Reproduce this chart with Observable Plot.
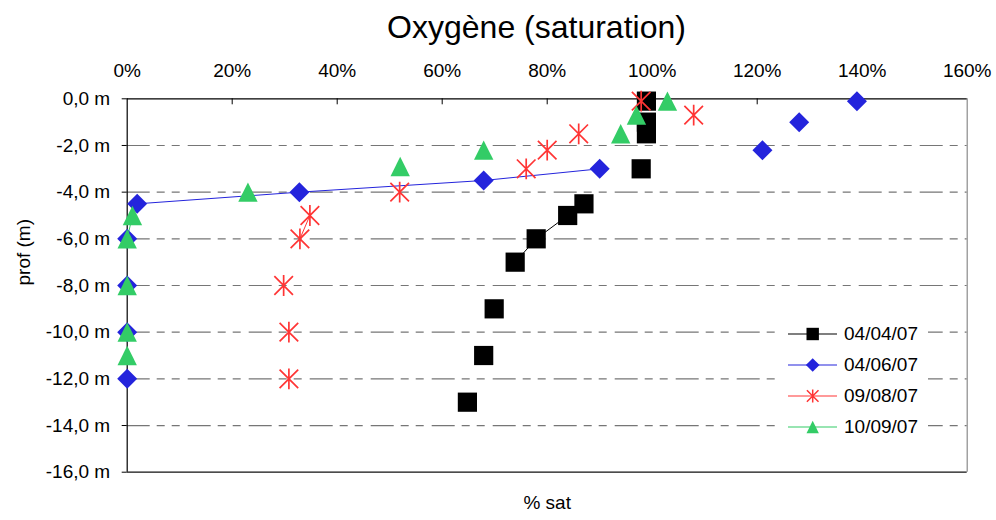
<!DOCTYPE html>
<html><head><meta charset="utf-8">
<script src="https://cdn.jsdelivr.net/npm/d3@7"></script>
<script src="https://cdn.jsdelivr.net/npm/@observablehq/plot@0.6"></script>
<style>
body{margin:0;background:#fff;}
#wrap{position:relative;width:996px;height:520px;overflow:hidden;font-family:"Liberation Sans",Arial,sans-serif;color:#000;}
#chart{position:absolute;left:0;top:0;}
#title{position:absolute;left:536.5px;top:11px;transform:translateX(-50%);font-size:32px;line-height:1;white-space:nowrap;}
#legend{position:absolute;left:780px;top:319px;width:148px;height:122px;background:#fff;}
.item{position:absolute;left:8px;height:20px;display:flex;align-items:center;font-size:19px;white-space:nowrap;}
.item svg{display:block;margin-right:6px;}
</style></head><body>
<div id="wrap"><div id="chart"></div><div id="title">Oxygène (saturation)</div><div id="legend"></div></div>
<script>
// ---- data ----
const seriesNames = ["04/04/07", "04/06/07", "09/08/07", "10/09/07"];
const seriesColors = ["#000000", "#2424dc", "#ff3535", "#33cc66"];

const depth0404 = [-0.1, -1.0, -1.5, -3.0, -4.5, -5.0, -6.0, -7.0, -9.0, -11.0, -13.0];
const sat0404   = [98.9, 98.9, 98.9, 97.9, 87.0, 83.9, 77.9, 73.9, 69.9, 67.9, 64.8];
const seg0404   = [1, 2, 3, 4, 5, 5, 5, 5, 6, 7, 8];

const depth0406 = [-0.1, -1.0, -2.2, -3.0, -3.5, -4.0, -4.5, -6.0, -8.0, -10.0, -12.0];
const sat0406   = [139.0, 128.0, 121.0, 90.0, 67.9, 32.8, 1.9, 0, 0, 0, 0];
const seg0406   = [1, 2, 3, 4, 4, 4, 4, 5, 6, 7, 8];

const depth0908 = [-0.1, -0.7, -1.5, -2.2, -3.0, -4.0, -5.0, -6.0, -8.0, -10.0, -12.0];
const sat0908   = [97.9, 107.9, 86.0, 80.0, 76.0, 51.9, 34.8, 32.9, 29.8, 30.8, 30.8];
const seg0908   = [1, 2, 3, 4, 5, 6, 7, 7, 8, 9, 10];

const depth1009 = [-0.1, -0.7, -1.5, -2.2, -2.9, -4.0, -5.0, -6.0, -8.0, -10.0, -11.0];
const sat1009   = [102.9, 97.0, 94.0, 67.9, 52.0, 23.0, 1.0, 0, 0, 0, 0];
const seg1009   = [1, 2, 3, 4, 5, 6, 7, 7, 8, 9, 10];

const xTicks = [0, 20, 40, 60, 80, 100, 120, 140, 160];
const yTicks = [0, -2, -4, -6, -8, -10, -12, -14, -16];
const xLabel = "% sat";
const yLabel = "prof (m)";

// ---- symbols (Excel-like markers) ----
const rad = (size) => Math.sqrt(size / Math.PI);
const symSquare = {draw(c, s) { const r = rad(s); c.moveTo(-r, -r); c.lineTo(r, -r); c.lineTo(r, r); c.lineTo(-r, r); c.closePath(); }};
const symDiamond = {draw(c, s) { const r = rad(s); c.moveTo(0, -r); c.lineTo(r, 0); c.lineTo(0, r); c.lineTo(-r, 0); c.closePath(); }};
const symTriangle = {draw(c, s) { const r = rad(s); c.moveTo(0, -r); c.lineTo(r, r); c.lineTo(-r, r); c.closePath(); }};
const symStar = {draw(c, s) { const r = rad(s); c.moveTo(-r, -r); c.lineTo(r, r); c.moveTo(r, -r); c.lineTo(-r, r); c.moveTo(0, -r * 1.12); c.lineTo(0, r * 1.12); }};

const series = [
  {name: seriesNames[0], color: seriesColors[0], depth: depth0404, sat: sat0404, seg: seg0404, symbol: symSquare, r: 9.6, filled: true, lr: 6.2},
  {name: seriesNames[1], color: seriesColors[1], depth: depth0406, sat: sat0406, seg: seg0406, symbol: symDiamond, r: 10, filled: true, lr: 6.8},
  {name: seriesNames[2], color: seriesColors[2], depth: depth0908, sat: sat0908, seg: seg0908, symbol: symStar, r: 9.3, filled: false, lr: 5.8},
  {name: seriesNames[3], color: seriesColors[3], depth: depth1009, sat: sat1009, seg: seg1009, symbol: symTriangle, r: 9.7, filled: true, lr: 6.2}
];

const fmtDepth = (d) => d.toFixed(1).replace(".", ",") + " m";
const yTop = d3.max(yTicks), yBottom = d3.min(yTicks);
const xLeft = d3.min(xTicks), xRight = d3.max(xTicks);

const marks = [
  // dashed gridlines
  Plot.ruleY(yTicks.filter((d) => d !== yTop && d !== yBottom), {y: (d) => d, stroke: "#767676", strokeWidth: 1.2, strokeDasharray: "23,7,8,7,8,8"}),
  // plot-area border
  Plot.ruleX([xRight], {x: (d) => d, stroke: "#8a8a8a", strokeWidth: 1.2}),
  Plot.ruleY([yBottom], {y: (d) => d, stroke: "#111", strokeWidth: 1.2}),
  // axes lines
  Plot.ruleX([xLeft], {x: (d) => d, stroke: "#000", strokeWidth: 1.2}),
  Plot.ruleY([yTop], {y: (d) => d, stroke: "#000", strokeWidth: 1.2}),
  // inward ticks on top axis
  Plot.ruleX(xTicks.slice(1, -1), {x: (d) => d, y1: () => yTop, y2: () => yTop, insetBottom: -6, stroke: "#000", strokeWidth: 1}),
  Plot.axisX({anchor: "top", ticks: xTicks, tickFormat: (d) => d + "%", tickSize: 0, tickPadding: 22, label: null}),
  Plot.axisY({ticks: yTicks, tickFormat: fmtDepth, tickSize: 5, tickPadding: 12, label: null}),
  Plot.text([yLabel], {frameAnchor: "left", dx: -103.5, rotate: -90, fontSize: 19}),
  Plot.text([xLabel], {frameAnchor: "bottom", dy: 36.3, fontSize: 19})
];

for (const s of series) {
  const rows = s.depth.map((d, i) => ({depth: d, sat: s.sat[i], seg: s.seg[i]}));
  marks.push(Plot.line(rows, {x: "sat", y: "depth", z: "seg", stroke: s.color, strokeWidth: 1}));
  marks.push(Plot.dot(rows, s.filled
    ? {x: "sat", y: "depth", symbol: s.symbol, r: s.r, fill: s.color, stroke: "none"}
    : {x: "sat", y: "depth", symbol: s.symbol, r: s.r, fill: "none", stroke: s.color, strokeWidth: 1.7}));
}

const chart = Plot.plot({
  width: 996,
  height: 520,
  marginTop: 98.3,
  marginBottom: 48.3,
  marginLeft: 126.7,
  marginRight: 29.3,
  style: {fontFamily: "'Liberation Sans', Arial, sans-serif", fontSize: "19px", color: "#000", background: "white"},
  x: {domain: [xLeft, xRight]},
  y: {domain: [yBottom, yTop]},
  marks
});
document.getElementById("chart").appendChild(chart);

// ---- legend ----
const legend = document.getElementById("legend");
series.forEach((s, i) => {
  const item = document.createElement("div");
  item.className = "item";
  item.style.top = (5 + 31 * i) + "px";
  const ns = "http://www.w3.org/2000/svg";
  const svg = document.createElementNS(ns, "svg");
  svg.setAttribute("width", 50); svg.setAttribute("height", 20);
  const line = document.createElementNS(ns, "line");
  line.setAttribute("x1", 0); line.setAttribute("x2", 49); line.setAttribute("y1", 10); line.setAttribute("y2", 10);
  line.setAttribute("stroke", s.color); line.setAttribute("stroke-width", 1.2);
  svg.appendChild(line);
  const p = d3.path();
  s.symbol.draw(p, s.lr * s.lr * Math.PI);
  const path = document.createElementNS(ns, "path");
  path.setAttribute("d", p.toString());
  path.setAttribute("transform", "translate(24.7,10)");
  if (s.filled) { path.setAttribute("fill", s.color); }
  else { path.setAttribute("fill", "none"); path.setAttribute("stroke", s.color); path.setAttribute("stroke-width", 1.5); }
  svg.appendChild(path);
  item.appendChild(svg);
  const label = document.createElement("span");
  label.textContent = s.name;
  item.appendChild(label);
  legend.appendChild(item);
});
</script>
</body></html>
